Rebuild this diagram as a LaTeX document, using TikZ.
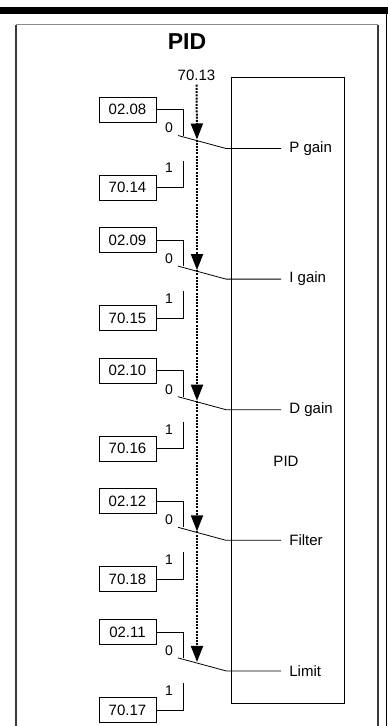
\documentclass[tikz,border=0pt]{standalone}
\usepackage{fontspec}
\setmainfont{Liberation Sans}
\usepackage{tikz}
\usetikzlibrary{arrows.meta, positioning, calc}
\definecolor{framegray}{HTML}{8A8A8A}
\definecolor{edgegray}{HTML}{3A3A3A}

\begin{document}
\begin{tikzpicture}[x=1pt, y=-1pt, line width=0.8pt,
    parbox/.style={draw, minimum width=57pt, minimum height=25pt, inner sep=0pt, font=\fontsize{15}{18}\selectfont},
    txt/.style={inner sep=0pt, font=\fontsize{15}{18}\selectfont},
    contact/.style={inner sep=0pt, font=\fontsize{14}{16}\selectfont},
    outlbl/.style={anchor=west, inner xsep=8pt, inner ysep=1pt, font=\fontsize{15}{18}\selectfont},
    sigline/.style={line width=2pt, dash pattern=on 2pt off 1.2pt, -{Triangle[length=16pt, width=12pt]}}]
                \useasboundingbox (0,0) rectangle (388,726);
                % outer frame
                \fill (0,7) rectangle (388,13.5);
                \draw[line width=1.5pt] (386.5,7) -- (386.5,726);
                \draw[edgegray, line width=1.2pt] (16,726) -- (16,24.5);
                \draw[edgegray, line width=1.2pt] (378,24.5) -- (378,726);
                \draw[framegray, line width=1.2pt] (16,24.5) -- (378,24.5);
                \node[font=\bfseries\fontsize{23}{26}\selectfont, inner sep=0pt] (title) at (187,42) {PID};
                % PID block
                \node[draw, anchor=north west, minimum width=113pt, minimum height=626pt] (pid) at (231,77) {};
                \node[txt] (pidlbl) at (286,461) {PID};
                \node[txt] (sel) at (196.5,75) {70.13};
                % parameter switches
                \foreach \i/\top/\bot/\out in {0/02.08/70.14/P gain, 1/02.09/70.15/I gain, 2/02.10/70.16/D gain, 3/02.12/70.18/Filter, 4/02.11/70.17/Limit} {
                    \pgfmathsetmacro\yc{109.5+130.6*\i}
                    \node[parbox] (t\i) at (127.5,\yc) {\top};
                    \node[parbox] (b\i) at (127.5,\yc+78) {\bot};
                    \coordinate (s\i) at (183,\yc+26);
                    \coordinate (u\i) at (183,\yc+51);
                    \coordinate (w\i) at (178,\yc+26);
                    \coordinate (p\i) at (226,\yc+39);
                    \coordinate (a\i) at (197,\yc+30);
                    \node[contact] (n\i) at (169,\yc+18.5) {0};
                    \node[contact] (m\i) at (169,\yc+58.5) {1};
                    \node[outlbl] (o\i) at (281,\yc+39) {\out};
                    \draw (t\i.east) -| (s\i);
                    \draw (b\i.east) -| (u\i);
                    \draw (w\i) -- (p\i) -- (o\i.west);
                }
                % selector line
                \draw[sigline] ([yshift=-4pt]sel.south) -- (a0);
                \foreach \i [count=\j from 0] in {1,...,4}
                    \draw[sigline] (a\j) -- (a\i);
            \end{tikzpicture}
\end{document}
